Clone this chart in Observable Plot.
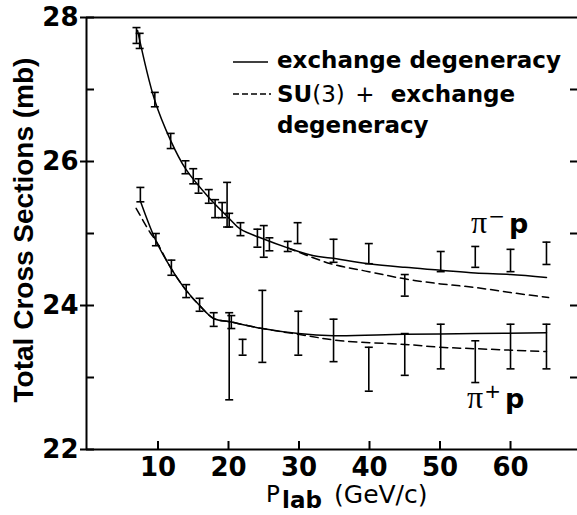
<!DOCTYPE html>
<html><head><meta charset="utf-8">
<script src="https://cdn.jsdelivr.net/npm/d3@7"></script>
<script src="https://cdn.jsdelivr.net/npm/@observablehq/plot@0.6"></script>
<style>
body{margin:0;background:#fff;}
#wrap{position:relative;width:577px;height:515px;}
</style>
</head><body><div id="wrap"></div>
<script>
// ---- axes ----
const xDomain = [-0.14, 69.5];
const yDomain = [22, 28];
const xTicks = [10, 20, 30, 40, 50, 60];
const yTicks = [22, 24, 26, 28];
const yMinorTicks = [23, 25, 27];
const yRightTicks = [23, 24, 25, 26, 27];

// ---- pi- p data (error bars) ----
const piMinusX  = [6.95, 7.4, 9.55, 11.8, 13.9, 15.0, 15.75, 17.2, 18.1, 19.1, 19.8, 20.1, 21.7, 24.1, 25.0, 25.8, 28.4, 29.8, 34.9, 39.9, 45.0, 50.1, 55.0, 60.0, 65.1];
const piMinusLo = [27.64, 27.57, 26.76, 26.18, 25.83, 25.69, 25.56, 25.42, 25.22, 25.22, 25.09, 25.09, 24.97, 24.81, 24.67, 24.76, 24.75, 24.86, 24.60, 24.58, 24.13, 24.47, 24.53, 24.47, 24.57];
const piMinusHi = [27.86, 27.78, 26.96, 26.39, 26.01, 25.90, 25.76, 25.61, 25.47, 25.43, 25.71, 25.28, 25.15, 25.06, 25.11, 24.94, 24.89, 25.15, 24.92, 24.86, 24.43, 24.75, 24.82, 24.78, 24.88];

// ---- pi+ p data (error bars) ----
const piPlusX  = [7.5, 9.7, 11.9, 14.0, 15.9, 17.9, 20.1, 20.4, 22.0, 24.8, 29.9, 34.9, 39.9, 45.0, 50.1, 55.0, 60.0, 65.1];
const piPlusLo = [25.44, 24.83, 24.42, 24.11, 23.92, 23.71, 22.69, 23.68, 23.31, 23.21, 23.31, 23.22, 22.81, 23.03, 23.12, 22.93, 23.12, 23.12];
const piPlusHi = [25.64, 25.00, 24.63, 24.29, 24.10, 23.90, 23.90, 23.86, 23.53, 24.21, 23.92, 23.81, 23.42, 23.61, 23.74, 23.51, 23.74, 23.74];

// ---- fitted curves ----
const edMinusX = [7.1, 9.5, 11.8, 13.9, 17.2, 20.0, 21.7, 24.8, 28.4, 32.1, 34.5, 39.9, 45.0, 50.1, 55.0, 60.0, 65.1];
const edMinusY = [27.82, 26.86, 26.29, 25.90, 25.50, 25.22, 25.06, 24.93, 24.80, 24.69, 24.66, 24.58, 24.53, 24.49, 24.45, 24.43, 24.39];
const suMinusX = [28.4, 34.5, 39.9, 45.0, 50.1, 55.0, 60.0, 65.4];
const suMinusY = [24.80, 24.58, 24.47, 24.37, 24.30, 24.25, 24.18, 24.11];
const edPlusX = [7.5, 9.7, 11.9, 14.0, 15.9, 17.9, 20.4, 24.8, 29.9, 34.9, 45.0, 55.0, 65.1];
const edPlusY = [25.45, 24.90, 24.51, 24.21, 24.00, 23.82, 23.77, 23.68, 23.61, 23.58, 23.60, 23.61, 23.62];
const suPlusX = [6.9, 8.9, 9.7, 11.9, 14.0, 15.9, 17.9, 20.4, 24.8, 29.9, 35.9, 45.0, 50.1, 55.0, 60.0, 65.1];
const suPlusY = [25.35, 25.01, 24.90, 24.51, 24.21, 24.00, 23.82, 23.77, 23.68, 23.60, 23.51, 23.46, 23.42, 23.40, 23.38, 23.36];

// ---- texts ----
const yTitle = "Total Cross Sections (mb)";
const legendSolid = "exchange degeneracy";
const legendDashed = ["SU", "(3)", " + ", "exchange"];
const legendDashed2 = "degeneracy";

const bars = [
  ...piMinusX.map((x, i) => ({x, lo: piMinusLo[i], hi: piMinusHi[i]})),
  ...piPlusX.map((x, i) => ({x, lo: piPlusLo[i], hi: piPlusHi[i]}))
];
const toPts = (xs, ys) => xs.map((x, i) => ({x, y: ys[i]}));

const capSymbol = {draw(ctx, size) { const r = Math.sqrt(size / Math.PI); ctx.moveTo(-r, 0); ctx.lineTo(r, 0); }};
const tickFont = {fontSize: 26, fontWeight: "bold", fontFamily: "DejaVu Sans", tickFormat: d => String(d)};

const chart = Plot.plot({
  width: 577, height: 515,
  marginLeft: 86, marginRight: 0, marginTop: 17, marginBottom: 66,
  x: {domain: xDomain},
  y: {domain: yDomain},
  marks: [
    Plot.ruleY([yDomain[1]], {strokeWidth: 2}),
    Plot.ruleY([yDomain[0]], {strokeWidth: 2}),
    Plot.ruleX([xDomain[0]], {strokeWidth: 2}),
    Plot.axisY(yTicks, {anchor: "left", tickSize: 6, tickPadding: 2, strokeWidth: 2, label: null, ...tickFont}),
    Plot.tickY(yTicks, {insetRight: 483, strokeWidth: 2}),
    Plot.tickY(yMinorTicks, {insetRight: 483, strokeWidth: 2}),
    Plot.tickY(yRightTicks, {insetLeft: 484, strokeWidth: 2}),
    Plot.axisX(xTicks, {anchor: "bottom", tickSize: 0, tickPadding: 8, label: null, ...tickFont}),
    Plot.tickX(xTicks, {insetTop: 424, strokeWidth: 2}),
    Plot.line(toPts(edMinusX, edMinusY), {x: "x", y: "y", curve: "catmull-rom", strokeWidth: 1.5}),
    Plot.line(toPts(suMinusX, suMinusY), {x: "x", y: "y", curve: "catmull-rom", strokeWidth: 1.5, strokeDasharray: "8,5"}),
    Plot.line(toPts(edPlusX, edPlusY), {x: "x", y: "y", curve: "catmull-rom", strokeWidth: 1.5}),
    Plot.line(toPts(suPlusX, suPlusY), {x: "x", y: "y", curve: "catmull-rom", strokeWidth: 1.5, strokeDasharray: "8,5"}),
    Plot.ruleX(bars, {x: "x", y1: "lo", y2: "hi", strokeWidth: 1.6}),
    Plot.dot(bars, {x: "x", y: "lo", symbol: capSymbol, r: 4, stroke: "black", fill: "none", strokeWidth: 1.6}),
    Plot.dot(bars, {x: "x", y: "hi", symbol: capSymbol, r: 4, stroke: "black", fill: "none", strokeWidth: 1.6})
  ]
});
document.getElementById("wrap").appendChild(chart);

// ---- annotations (titles, legend, labels) ----
const svg = d3.select(chart);
const g = svg.append("g").attr("fill", "black").attr("text-anchor", "start");

g.append("text").attr("transform", "translate(33,230) rotate(-90)").attr("text-anchor", "middle")
  .attr("font-family", "Liberation Sans, Arial, sans-serif").attr("font-weight", "bold").attr("font-size", 28)
  .text(yTitle);

const xt = g.append("text").attr("font-family", "DejaVu Sans");
xt.append("tspan").attr("x", 266).attr("y", 502).attr("font-size", 23).text("P");
xt.append("tspan").attr("x", 282).attr("y", 508).attr("font-size", 23).attr("font-weight", "bold").text("lab");
xt.append("tspan").attr("x", 334).attr("y", 503).attr("font-size", 25).text("(GeV/c)");

// legend
g.append("line").attr("x1", 233).attr("x2", 268).attr("y1", 62).attr("y2", 62).attr("stroke", "black").attr("stroke-width", 1.6);
g.append("line").attr("x1", 233).attr("x2", 271).attr("y1", 94).attr("y2", 94).attr("stroke", "black").attr("stroke-width", 1.6).attr("stroke-dasharray", "6,3");
const lf = {family: "DejaVu Sans", size: 23};
g.append("text").attr("x", 277).attr("y", 68).attr("font-family", lf.family).attr("font-size", lf.size).attr("font-weight", "bold").text(legendSolid);
const l2 = g.append("text").attr("x", 277).attr("y", 102).attr("font-family", lf.family).attr("font-size", lf.size).attr("xml:space", "preserve");
l2.append("tspan").attr("font-weight", "bold").text(legendDashed[0]);
l2.append("tspan").attr("font-weight", "normal").text(legendDashed[1]);
l2.append("tspan").attr("font-weight", "normal").attr("dx", 3).text(legendDashed[2]);
l2.append("tspan").attr("font-weight", "bold").attr("dx", 9).text(legendDashed[3]);
g.append("text").attr("x", 277).attr("y", 133).attr("font-family", lf.family).attr("font-size", lf.size).attr("font-weight", "bold").text(legendDashed2);

// particle labels
function particle(x, y, sign) {
  const t = g.append("text").attr("x", x).attr("y", y);
  t.append("tspan").attr("font-family", "Liberation Serif, serif").attr("font-size", 32).text("π");
  t.append("tspan").attr("font-family", "DejaVu Sans").attr("font-size", 20).attr("dy", -10).attr("dx", 1).text(sign);
  t.append("tspan").attr("font-family", "DejaVu Sans").attr("font-weight", "bold").attr("font-size", 27).attr("dy", 10).attr("dx", 4).text("p");
}
particle(471, 233, "−");
particle(467, 408, "+");
</script>
</body></html>
